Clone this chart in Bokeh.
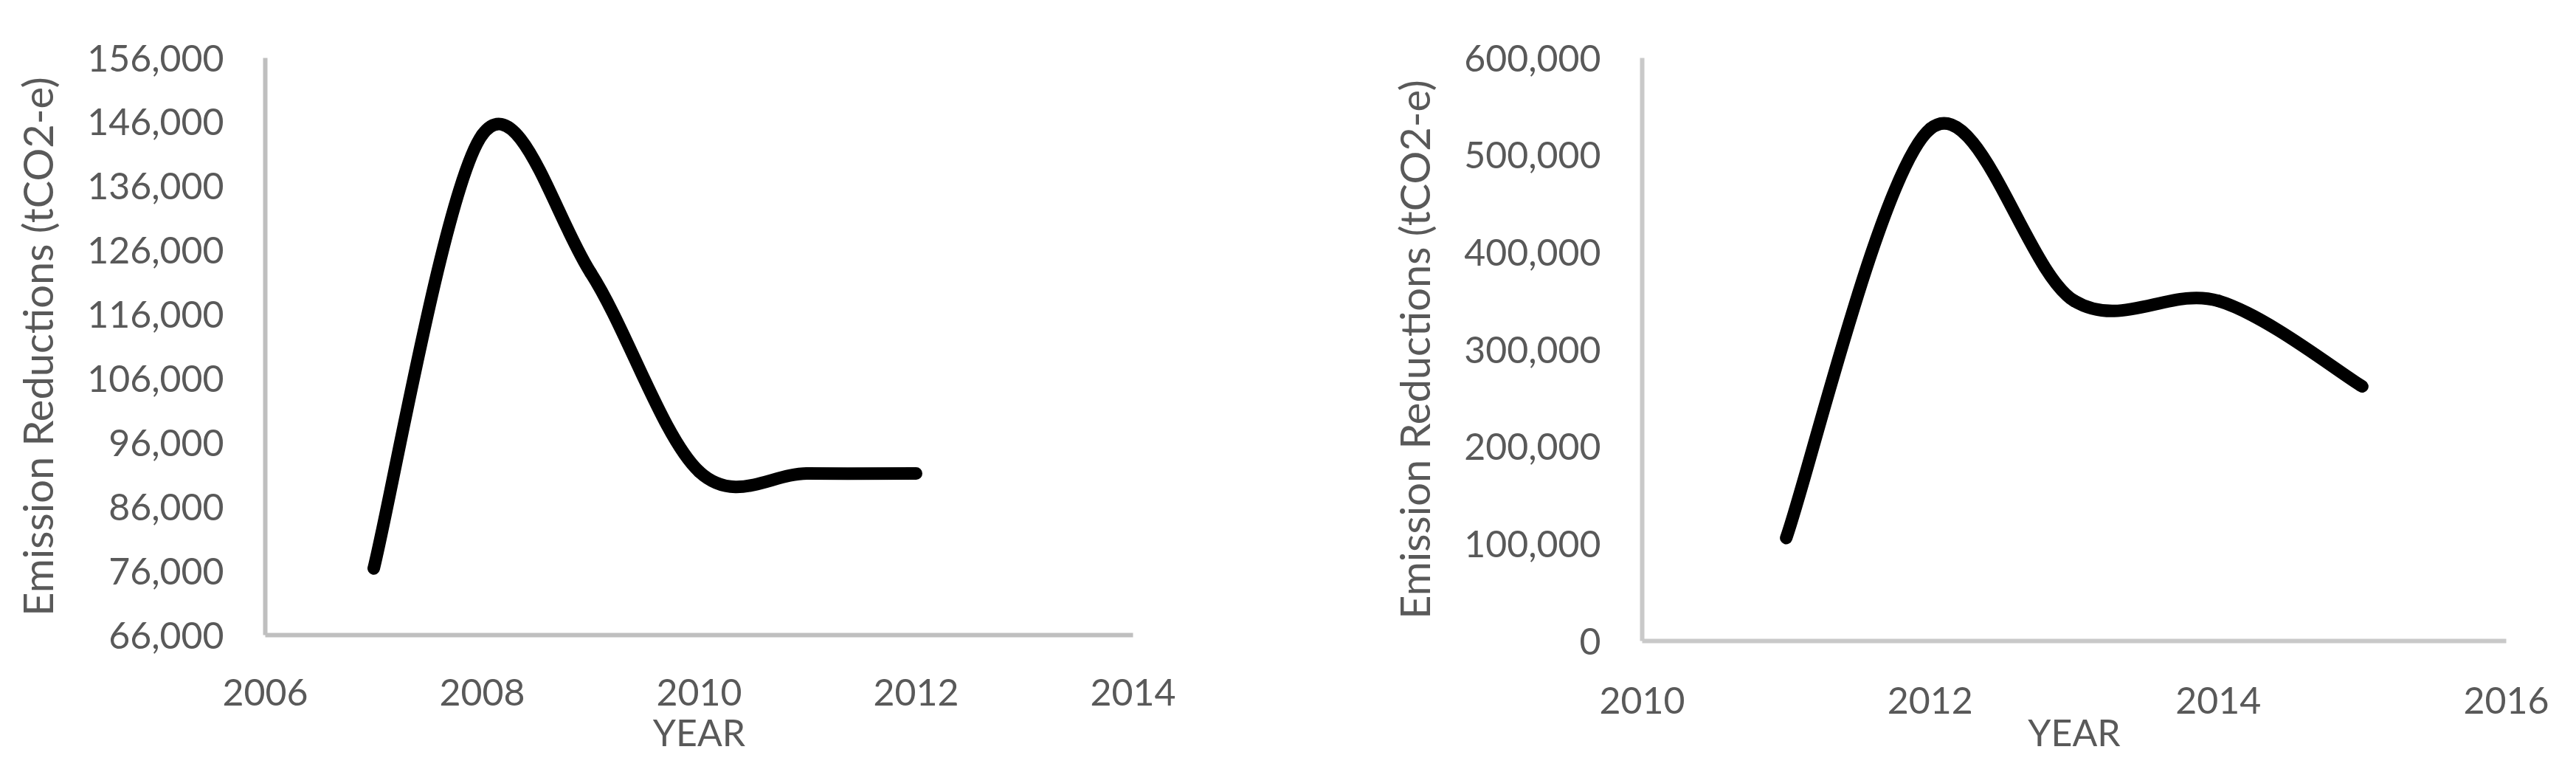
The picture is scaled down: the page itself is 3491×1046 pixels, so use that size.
from bokeh.plotting import figure
from bokeh.layouts import row
from bokeh.models import FixedTicker, NumeralTickFormatter, Range1d, ColumnDataSource
from bokeh.embed import file_html
from bokeh.resources import INLINE

# ---------------- data ----------------
years_a = [2007, 2008, 2009, 2010, 2011, 2012]
reductions_a = [76400, 144000, 122500, 91500, 91200, 91200]

years_b = [2011, 2012, 2013, 2014, 2015]
reductions_b = [106000, 527000, 350000, 350000, 262000]

x_ticks_a = [2006, 2008, 2010, 2012, 2014]
y_ticks_a = [66000, 76000, 86000, 96000, 106000, 116000, 126000, 136000, 146000, 156000]
x_ticks_b = [2010, 2012, 2014, 2016]
y_ticks_b = [0, 100000, 200000, 300000, 400000, 500000, 600000]

y_title = "Emission Reductions (tCO2-e)"
x_title = "YEAR"

FONT = "Lato"
TEXT_COLOR = "#595959"


def smooth_segments(xs, ys):
    """Bezier control points (Catmull-Rom style, like a smoothed Excel line)."""
    n = len(xs)
    d = dict(x0=[], y0=[], x1=[], y1=[], cx0=[], cy0=[], cx1=[], cy1=[])
    for i in range(n - 1):
        a = i - 1 if i > 0 else i
        b = i + 2 if i + 2 < n else i + 1
        d["x0"].append(xs[i]); d["y0"].append(ys[i])
        d["x1"].append(xs[i + 1]); d["y1"].append(ys[i + 1])
        d["cx0"].append(xs[i] + (xs[i + 1] - xs[a]) / 6.0)
        d["cy0"].append(ys[i] + (ys[i + 1] - ys[a]) / 6.0)
        d["cx1"].append(xs[i + 1] - (xs[b] - xs[i]) / 6.0)
        d["cy1"].append(ys[i + 1] - (ys[b] - ys[i]) / 6.0)
    return ColumnDataSource(d)


def make_fig(fw, fh, xr, yr, xt, yt, borders, axis_color,
             ylab_standoff, xtick_standoff, xlab_standoff):
    bl, br, bt = borders
    p = figure(frame_width=fw, frame_height=fh,
               x_range=Range1d(*xr), y_range=Range1d(*yr),
               output_backend="svg", toolbar_location=None,
               min_border_left=bl, min_border_right=br,
               min_border_top=bt, min_border_bottom=0)
    p.xgrid.visible = False
    p.ygrid.visible = False
    p.outline_line_color = None
    p.background_fill_color = "white"
    p.border_fill_color = "white"

    xa = p.xaxis[0]
    ya = p.yaxis[0]
    xa.ticker = FixedTicker(ticks=xt)
    ya.ticker = FixedTicker(ticks=yt)
    xa.formatter = NumeralTickFormatter(format="0")
    ya.formatter = NumeralTickFormatter(format="0,0")
    for ax in (xa, ya):
        ax.major_tick_line_color = None
        ax.minor_tick_line_color = None
        ax.major_tick_out = 0
        ax.major_tick_in = 0
        ax.minor_tick_out = 0
        ax.minor_tick_in = 0
        ax.axis_line_color = axis_color
        ax.axis_line_width = 6
        ax.major_label_text_font = FONT
        ax.major_label_text_color = TEXT_COLOR
        ax.axis_label_text_font = FONT
        ax.axis_label_text_color = TEXT_COLOR
        ax.axis_label_text_font_style = "normal"
    xa.major_label_text_font_size = "50px"
    ya.major_label_text_font_size = "50px"
    xa.axis_label = x_title
    ya.axis_label = y_title
    xa.axis_label_text_font_size = "50px"
    ya.axis_label_text_font_size = "56px"
    xa.major_label_standoff = xtick_standoff
    ya.major_label_standoff = 56
    xa.axis_label_standoff = xlab_standoff
    ya.axis_label_standoff = ylab_standoff
    return p


# left chart
p1 = make_fig(1176, 782, (2006, 2014), (66000, 156000), x_ticks_a, y_ticks_a,
              (359, 200, 78), "#BFBFBF", 31, 59, 3)
p1.bezier(x0="x0", y0="y0", x1="x1", y1="y1", cx0="cx0", cy0="cy0",
          cx1="cx1", cy1="cy1", source=smooth_segments(years_a, reductions_a),
          line_color="black", line_width=17, line_cap="round")

# right chart
p2 = make_fig(1171, 790, (2010, 2016), (0, 600000), x_ticks_b, y_ticks_b,
              (490, 80, 78), "#C9C9C9", 31, 62, -8)
p2.bezier(x0="x0", y0="y0", x1="x1", y1="y1", cx0="cx0", cy0="cy0",
          cx1="cx1", cy1="cy1", source=smooth_segments(years_b, reductions_b),
          line_color="black", line_width=17, line_cap="round")

layout = row(p1, p2)
open("out.html", "w").write(file_html(layout, INLINE))
